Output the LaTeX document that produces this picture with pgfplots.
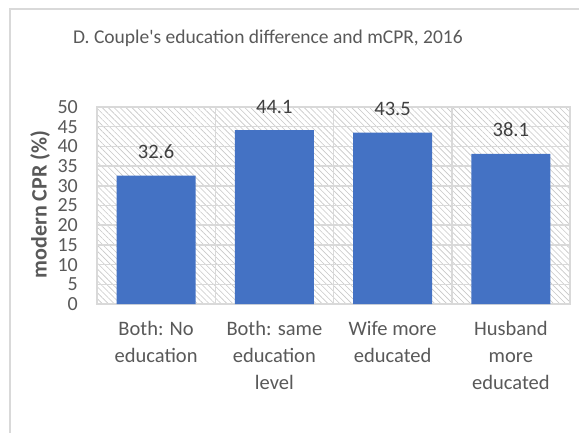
\documentclass[border=0pt]{standalone}
\usepackage{fontspec}
\setmainfont{Carlito}
\usepackage{pgfplots}
\pgfplotsset{compat=1.18}
\usetikzlibrary{patterns.meta}
\definecolor{barblue}{HTML}{4472C4}
\definecolor{txtgray}{HTML}{595959}
\definecolor{lblgray}{HTML}{404040}
\definecolor{gridgray}{HTML}{D9D9D9}
\definecolor{hatchgray}{HTML}{C8C8C8}
\begin{document}
\begin{tikzpicture}[x=1pt,y=1pt]
\useasboundingbox[fill=white] (0,0) rectangle (579,-433);
% chart area frame
\draw[gridgray, line width=1.5pt] (10,-433) -- (10,-9) -- (579,-9);
\begin{axis}[
  at={(97pt,-304pt)}, anchor=south west,
  width=473pt, height=197pt, scale only axis,
  ybar, bar width=0.668,
  xmin=-0.5, xmax=3.5, ymin=0, ymax=50,
  clip=false,
  ytick={0,5,...,50},
  xtick={0,1,2,3},
  xticklabels={Both: No\\education, Both: same\\education\\level, Wife more\\educated, Husband\\more\\educated},
  minor xtick={-0.5,0.5,1.5,2.5,3.5},
  ymajorgrids, xminorgrids,
  major grid style={gridgray, line width=1.5pt},
  minor grid style={gridgray, line width=1.5pt},
  axis line style={gridgray, line width=1.5pt},
  major tick length=0pt, minor tick length=0pt,
  /pgf/number format/assume math mode=true,
  tick label style={text=txtgray},
  yticklabel style={font=\fontsize{20}{24}\selectfont, inner sep=0pt, anchor=east, xshift=-19pt},
  xticklabel style={font=\fontsize{20.5}{27}\selectfont, align=center, inner sep=0pt, anchor=north, yshift=-17pt},
  ylabel={modern CPR (\%)},
  every axis y label/.style={at={(axis description cs:-0.1205,0.505)}, rotate=90, anchor=center,
    font=\fontsize{22}{26}\selectfont\bfseries, text=txtgray},
  title={D. Couple\textquotesingle s education difference and mCPR, 2016},
  every axis title/.style={at={(axis description cs:0.3615,1.350)}, anchor=center,
    font=\fontsize{19.5}{23}\selectfont, text=txtgray},
  axis background/.style={pattern={Lines[angle=-45,distance=4.2pt,line width=0.6pt]}, pattern color=hatchgray},
  nodes near coords={\pgfmathprintnumber[fixed,fixed zerofill,precision=1]{\pgfplotspointmeta}},
  nodes near coords style={font=\fontsize{20.5}{24}\selectfont, text=lblgray, anchor=base, inner sep=0pt, yshift=17pt},
]
\addplot[fill=barblue, draw=none] coordinates {(0,32.6) (1,44.1) (2,43.5) (3,38.1)};
\end{axis}
\end{tikzpicture}
\end{document}
